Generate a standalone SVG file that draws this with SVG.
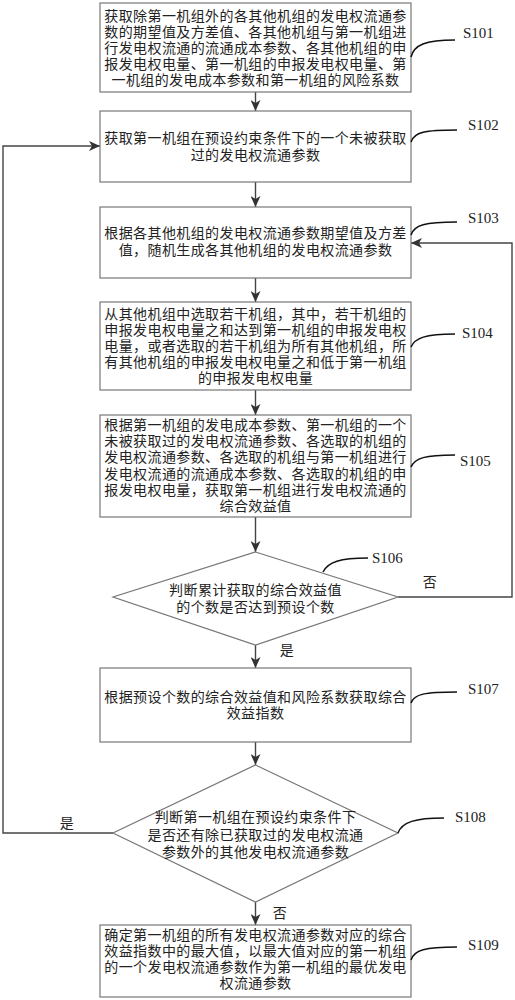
<svg xmlns="http://www.w3.org/2000/svg" width="515" height="1000" viewBox="0 0 515 1000">
<defs>
<marker id="arr" markerUnits="userSpaceOnUse" markerWidth="12" markerHeight="10" refX="11" refY="5" orient="auto">
<path d="M0,0 L11,5 L0,10 L3,5 Z" fill="#333"/>
</marker>
<style>
.box{fill:#fff;stroke:#777;stroke-width:1.2}
.t{font-family:"Noto Sans CJK SC","Noto Sans CJK JP",sans-serif;font-size:14px;letter-spacing:0.4px;fill:#222;text-anchor:middle}
.lbl{font-family:"Liberation Serif",serif;font-size:15px;fill:#222}
.c{fill:none;stroke:#444;stroke-width:1.4}
.lead{fill:none;stroke:#111;stroke-width:1.5}
</style>
</defs>
<rect width="515" height="1000" fill="#fff"/>

<g id="connectors">
<line class="c" x1="255.5" y1="92" x2="255.5" y2="111" marker-end="url(#arr)"/>
<line class="c" x1="255.5" y1="182" x2="255.5" y2="207" marker-end="url(#arr)"/>
<line class="c" x1="255.5" y1="278" x2="255.5" y2="302" marker-end="url(#arr)"/>
<line class="c" x1="255.5" y1="390" x2="255.5" y2="415" marker-end="url(#arr)"/>
<line class="c" x1="255.5" y1="517" x2="255.5" y2="552" marker-end="url(#arr)"/>
<line class="c" x1="255.5" y1="645" x2="255.5" y2="668" marker-end="url(#arr)"/>
<line class="c" x1="255.5" y1="742" x2="255.5" y2="765" marker-end="url(#arr)"/>
<line class="c" x1="255.5" y1="902" x2="255.5" y2="925" marker-end="url(#arr)"/>
<polyline class="c" points="398,597 512,597 512,243 411,243" marker-end="url(#arr)"/>
<polyline class="c" points="113,833 3,833 3,146 100,146" marker-end="url(#arr)"/>
<text class="t" x="430" y="587">否</text>
<text class="t" x="287" y="655">是</text>
<text class="t" x="67" y="828">是</text>
<text class="t" x="280" y="918">否</text>
</g>

<g id="S101">
<rect class="box" x="100" y="3" width="311" height="89"/>
<text class="t" x="255.5" y="21">获取除第一机组外的各其他机组的发电权流通参</text>
<text class="t" x="255.5" y="37">数的期望值及方差值、各其他机组与第一机组进</text>
<text class="t" x="255.5" y="53">行发电权流通的流通成本参数、各其他机组的申</text>
<text class="t" x="255.5" y="69">报发电权电量、第一机组的申报发电权电量、第</text>
<text class="t" x="255.5" y="85">一机组的发电成本参数和第一机组的风险系数</text>
<path class="lead" d="M411,57 C414,45 425,40 455,40"/>
<text class="lbl" x="463" y="38">S101</text>
</g>

<g id="S102">
<rect class="box" x="100" y="111" width="311" height="71"/>
<text class="t" x="255.5" y="143">获取第一机组在预设约束条件下的一个未被获取</text>
<text class="t" x="255.5" y="160">过的发电权流通参数</text>
<path class="lead" d="M411,142 C414,132 425,130 457,130"/>
<text class="lbl" x="468" y="130">S102</text>
</g>

<g id="S103">
<rect class="box" x="100" y="207" width="311" height="71"/>
<text class="t" x="255.5" y="238">根据各其他机组的发电权流通参数期望值及方差</text>
<text class="t" x="255.5" y="255">值，随机生成各其他机组的发电权流通参数</text>
<path class="lead" d="M411,235 C414,225 425,222 457,222"/>
<text class="lbl" x="468" y="223">S103</text>
</g>

<g id="S104">
<rect class="box" x="100" y="302" width="311" height="88"/>
<text class="t" x="255.5" y="319">从其他机组中选取若干机组，其中，若干机组的</text>
<text class="t" x="255.5" y="335">申报发电权电量之和达到第一机组的申报发电权</text>
<text class="t" x="255.5" y="351">电量，或者选取的若干机组为所有其他机组，所</text>
<text class="t" x="255.5" y="367">有其他机组的申报发电权电量之和低于第一机组</text>
<text class="t" x="255.5" y="383">的申报发电权电量</text>
<path class="lead" d="M411,347 C415,338 425,334 455,334"/>
<text class="lbl" x="462" y="338">S104</text>
</g>

<g id="S105">
<rect class="box" x="100" y="415" width="311" height="102"/>
<text class="t" x="255.5" y="430">根据第一机组的发电成本参数、第一机组的一个</text>
<text class="t" x="255.5" y="446">未被获取过的发电权流通参数、各选取的机组的</text>
<text class="t" x="255.5" y="462">发电权流通参数、各选取的机组与第一机组进行</text>
<text class="t" x="255.5" y="479">发电权流通的流通成本参数、各选取的机组的申</text>
<text class="t" x="255.5" y="495">报发电权电量，获取第一机组进行发电权流通的</text>
<text class="t" x="255.5" y="511">综合效益值</text>
<path class="lead" d="M411,467 C415,458 425,455 455,455"/>
<text class="lbl" x="460" y="466">S105</text>
</g>

<g id="S106">
<polygon class="box" points="255.5,552 398,597 255.5,645 113,597"/>
<text class="t" x="255.5" y="595">判断累计获取的综合效益值</text>
<text class="t" x="255.5" y="612">的个数是否达到预设个数</text>
<path class="lead" d="M323,572 C328,562 340,558 368,558"/>
<text class="lbl" x="372" y="563">S106</text>
</g>

<g id="S107">
<rect class="box" x="100" y="668" width="311" height="74"/>
<text class="t" x="255.5" y="702">根据预设个数的综合效益值和风险系数获取综合</text>
<text class="t" x="255.5" y="718">效益指数</text>
<path class="lead" d="M411,703 C414,694 425,692 457,692"/>
<text class="lbl" x="468" y="694">S107</text>
</g>

<g id="S108">
<polygon class="box" points="255.5,765 398,833 255.5,902 113,833"/>
<text class="t" x="255.5" y="822">判断第一机组在预设约束条件下</text>
<text class="t" x="255.5" y="840">是否还有除已获取过的发电权流通</text>
<text class="t" x="255.5" y="857">参数外的其他发电权流通参数</text>
<path class="lead" d="M398,833 C402,822 415,818 444,818"/>
<text class="lbl" x="455" y="822">S108</text>
</g>

<g id="S109">
<rect class="box" x="100" y="925" width="311" height="72"/>
<text class="t" x="255.5" y="940">确定第一机组的所有发电权流通参数对应的综合</text>
<text class="t" x="255.5" y="956">效益指数中的最大值，以最大值对应的第一机组</text>
<text class="t" x="255.5" y="972">的一个发电权流通参数作为第一机组的最优发电</text>
<text class="t" x="255.5" y="988">权流通参数</text>
<path class="lead" d="M411,960 C414,950 425,947 457,947"/>
<text class="lbl" x="468" y="950">S109</text>
</g>
</svg>
